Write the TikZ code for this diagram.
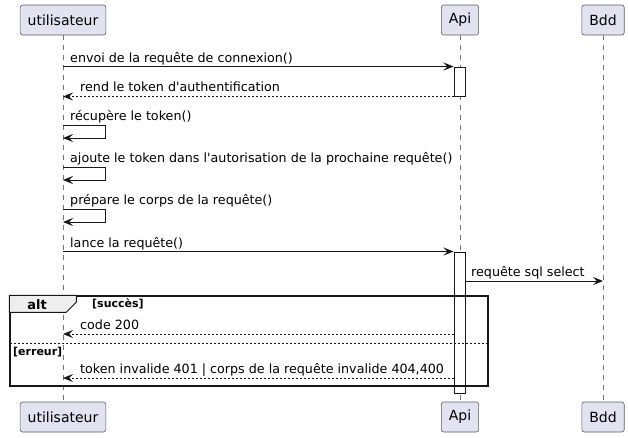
\documentclass[tikz,border=0pt]{standalone}
\usepackage{fontspec}
\setmainfont{DejaVu Sans}
\usetikzlibrary{arrows.meta}
\definecolor{partfill}{HTML}{E2E2F0}
\definecolor{partline}{HTML}{181818}
\definecolor{tabfill}{HTML}{EEEEEE}

\begin{document}
\begin{tikzpicture}[x=1pt,y=-1pt]
        \tikzstyle{every node}=[font=\fontsize{12.7}{15}\selectfont, inner sep=0pt]
        \tikzstyle{participant}=[draw=partline!70, line width=0.6pt, fill=partfill, rounded corners=2.5pt,
            minimum height=30pt, inner xsep=7.5pt, font=\fontsize{14}{16}\selectfont]
        \tikzstyle{lifeline}=[draw=partline!60, line width=0.6pt, dash pattern=on 5pt off 5pt]
        \tikzstyle{activation}=[draw=partline, fill=white, line width=1pt, minimum width=11pt]
        \tikzstyle{msg}=[-{Stealth[length=10pt,width=8pt,inset=4pt]}, line width=1pt, draw=partline]
        \tikzstyle{ret}=[msg, dash pattern=on 2pt off 2pt]
        \tikzstyle{lbl}=[anchor=base west]
        \tikzstyle{guard}=[anchor=base west, font=\fontsize{11}{13}\selectfont\bfseries]

        \useasboundingbox (0,0) rectangle (628,437);

        \node[participant] (uT) at (63,20) {utilisateur};
        \node[participant] (aT) at (460,20) {Api};
        \node[participant] (bT) at (603,20) {Bdd};
        \node[participant] (uB) at (63,417) {utilisateur};
        \node[participant] (aB) at (460,417) {Api};
        \node[participant] (bB) at (603,417) {Bdd};

        \draw[lifeline] (uT.south) -- (uB.north);
        \draw[lifeline] (aT.south) -- (aB.north);
        \draw[lifeline] (bT.south) -- (bB.north);

        \node[activation, minimum height=29pt] (act1) at (459.5,81.5) {};
        \node[activation, minimum height=141pt] (act2) at (459.5,322.5) {};

        \draw[msg] (uT |- act1.north) -- (act1.north west);
        \node[lbl] (l1) at (70,62) {envoi de la requête de connexion()};
        \draw[ret] (act1.south west) -- (uT |- act1.south);
        \node[lbl] (l2) at (80,91) {rend le token d\textquotesingle authentification};

        \coordinate (s1) at (63,125);
        \draw[msg] (s1) -- ++(42,0) -- ++(0,13) -- ++(-42,0);
        \node[lbl] (l3) at (70,120) {récupère le token()};
        \coordinate (s2) at (63,167);
        \draw[msg] (s2) -- ++(42,0) -- ++(0,13) -- ++(-42,0);
        \node[lbl] (l4) at (70,162) {ajoute le token dans l\textquotesingle autorisation de la prochaine requête()};
        \coordinate (s3) at (63,209);
        \draw[msg] (s3) -- ++(42,0) -- ++(0,13) -- ++(-42,0);
        \node[lbl] (l5) at (70,204) {prépare le corps de la requête()};

        \draw[msg] (uT |- act2.north) -- (act2.north west);
        \node[lbl] (l6) at (70,247) {lance la requête()};
        \coordinate (q1) at (465,281);
        \draw[msg] (q1) -- (bT |- q1);
        \node[lbl] (l7) at (471,276) {requête sql select};

        \node[draw=partline, line width=1.5pt, minimum width=478pt, minimum height=90pt] (alt) at (249,341) {};
        \draw[fill=tabfill, draw=partline, line width=1pt] (alt.north west) -- ++(67,0) -- ++(0,7) -- ++(-10,10) -- ++(-57,0) -- cycle;
        \node[anchor=base, font=\fontsize{13}{15}\selectfont\bfseries] (altname) at (37,309) {alt};
        \node[guard] (g1) at (92,307) {[succès]};

        \coordinate (r1) at (454,334);
        \draw[ret] (r1) -- (uT |- r1);
        \node[lbl] (l8) at (80,329) {code 200};

        \coordinate (sep) at (10,343);
        \draw[draw=partline, line width=1pt, dash pattern=on 2pt off 2pt] (sep) -- (alt.east |- sep);
        \node[guard] (g2) at (13,355) {[erreur]};

        \coordinate (r2) at (454,378);
        \draw[ret] (r2) -- (uT |- r2);
        \node[lbl] (l9) at (80,373) {token invalide 401 | corps de la requête invalide 404,400};
\end{tikzpicture}
\end{document}
